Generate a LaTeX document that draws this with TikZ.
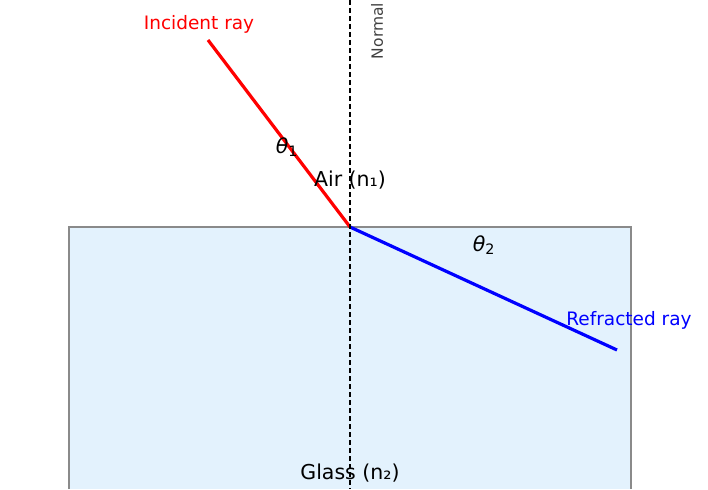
\documentclass[tikz,border=0pt]{standalone}
\usepackage{fontspec}
\setmainfont{DejaVu Sans}
\definecolor{glass}{HTML}{E3F2FD}
\definecolor{edge}{HTML}{8A8A8A}
\begin{document}
\begin{tikzpicture}[x=1pt,y=-1pt,
  lbl/.style={font=\fontsize{18.5}{20}\selectfont,inner sep=0pt},
  mid/.style={font=\fontsize{20.5}{22}\selectfont,inner sep=0pt},
  big/.style={font=\fontsize{20.5}{22}\selectfont,inner sep=0pt},
  ray/.style={line width=3.2pt}]
\useasboundingbox (0,0) rectangle (708,489);
\fill[glass] (69,227) rectangle (631,489);
\draw[edge,line width=1.5pt] (69,489) -- (69,227) -- (631,227) -- (631,489);
\coordinate (top) at (350,0);
\coordinate (bot) at (350,489);
\coordinate (O) at (350,227);
\coordinate (A) at (208,40);
\coordinate (B) at (617,350);
\draw[ray,red] (A) -- (O);
\draw[ray,blue] (O) -- (B);
\draw[dashed,dash pattern=on 5pt off 3pt,line width=1.4pt] (top) -- (bot);
\node[lbl,text=red] (inc) at (199,24) {Incident ray};
\node[inner sep=0pt,font=\fontsize{15.5}{17}\selectfont,text=black!75,rotate=90] (nor) at (377,31) {Normal};
\node[big] (t1) at (287,147) {{\itshape θ}\textsubscript{1}};
\node[mid] (air) at (350,180) {Air (n₁)};
\node[big] (t2) at (484,245) {{\itshape θ}\textsubscript{2}};
\node[lbl,text=blue] (ref) at (629,320) {Refracted ray};
\node[mid] (gl) at (350,473) {Glass (n₂)};
\end{tikzpicture}
\end{document}
